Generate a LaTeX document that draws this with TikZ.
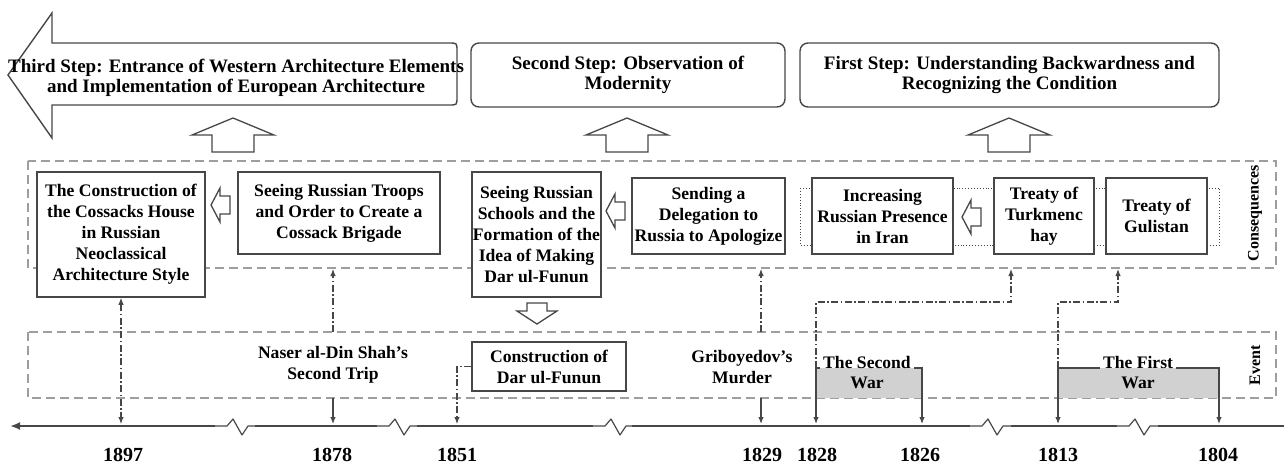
\documentclass[tikz,border=0pt]{standalone}
\usepackage{fontspec}
\setmainfont{Liberation Serif}
\usetikzlibrary{arrows.meta}
\newcommand\fTop{\fontsize{19}{20.5}\selectfont\bfseries}
\newcommand\fBody{\fontsize{17.6}{21}\selectfont\bfseries}
\newcommand\fYear{\fontsize{20}{22}\selectfont\bfseries}
\newcommand\fSide{\fontsize{16}{18}\selectfont\bfseries}
\colorlet{boxc}{black!72}
\colorlet{regc}{black!38}
\colorlet{linec}{black!72}
\tikzset{
 stepbox/.style={draw=boxc, line width=1.4pt, rounded corners=8pt, align=center, font=\fTop, inner sep=0pt},
 cbox/.style={draw=boxc, line width=1.6pt, fill=white, align=center, font=\fBody, inner sep=0pt},
 txt/.style={align=center, font=\fBody, inner sep=0pt},
 region/.style={draw=regc, line width=1.2pt, dash pattern=on 9pt off 5pt},
 dd/.style={draw=linec, line width=1.1pt, dash pattern=on 7pt off 2.5pt on 1.5pt off 2.5pt},
 sl/.style={draw=linec, line width=1.2pt},
 tip/.style={-{Latex[length=7pt,width=5.5pt]}},
 blk/.style={draw=boxc, line width=1.3pt, fill=white, line join=miter},
 yr/.style={font=\fYear, inner sep=0pt},
 side/.style={font=\fSide, rotate=90, inner sep=0pt},
 warlab/.style={font=\fBody, inner sep=3pt, anchor=base},
 shade/.style={fill=black!18},
}
\newcommand\upblk[1]{\draw[blk] (#1,118) -- ++(41,17) -- ++(-20,0) -- ++(0,17) -- ++(-42,0) -- ++(0,-17) -- ++(-20,0) -- cycle;}
\newcommand\lblk[2]{\draw[blk] (#1,#2) -- ++(9,-17) -- ++(0,8) -- ++(10,0) -- ++(0,18) -- ++(-10,0) -- ++(0,8) -- cycle;}
\newcommand\brk[2]{\fill[white] (#1,420) rectangle (#2,432);
 \draw[linec, line width=1.2pt, line join=round] (#1,426) -- ({#1+12},426) -- ({#1+18},419) -- ({#1+27},435) -- ({#1+33},426) -- (#2,426);}
\begin{document}
\begin{tikzpicture}[x=1pt,y=-1pt]
\useasboundingbox (0,0) rectangle (1284,466);

% ---------- top steps ----------
\draw[draw=boxc, line width=1.4pt, line join=miter]
  (52,43) -- (52,13) -- (8,75) -- (52,138) -- (52,105) -- (449,105)
  .. controls (457,105) .. (457,97) -- (457,51)
  .. controls (457,43) .. (449,43) -- cycle;
\node[align=center, font=\fTop, inner sep=0pt] (s3) at (236,78)
  {Third Step: Entrance of Western Architecture Elements\\and Implementation of European Architecture};
\node[stepbox, minimum width=314pt, minimum height=64pt] (s2) at (628,75)
  {Second Step: Observation of\\Modernity};
\node[stepbox, minimum width=419pt, minimum height=64pt] (s1) at (1009.5,75)
  {First Step: Understanding Backwardness and\\Recognizing the Condition};

\upblk{233}
\upblk{627}
\upblk{1009}

% ---------- regions ----------
\draw[region] (28,161) rectangle (1276,268);
\draw[region] (28,332) rectangle (1276,398);
\node[side] (lcons) at (1255,213) {Consequences};
\node[side] (lev) at (1255,365) {Event};

% dotted bracket behind treaties
\draw[draw=boxc, line width=0.9pt, dotted] (800,188) rectangle (1219,245);

% ---------- consequence boxes ----------
\node[cbox, minimum width=168pt, minimum height=125pt] (A) at (121,234.5)
  {The Construction of\\the Cossacks House\\in Russian\\Neoclassical\\Architecture Style};
\node[cbox, minimum width=202pt, minimum height=82pt] (B) at (339,213)
  {Seeing Russian Troops\\and Order to Create a\\Cossack Brigade};
\node[cbox, minimum width=129pt, minimum height=125pt] (C) at (536.5,234.5)
  {Seeing Russian\\Schools and the\\Formation of the\\Idea of Making\\Dar ul-Funun};
\node[cbox, minimum width=153pt, minimum height=76pt] (D) at (708.5,216)
  {Sending a\\Delegation to\\Russia to Apologize};
\node[cbox, minimum width=141pt, minimum height=76pt] (E) at (882.5,216)
  {Increasing\\Russian Presence\\in Iran};
\node[cbox, minimum width=100pt, minimum height=76pt] (F) at (1044,216)
  {Treaty of\\Turkmenc\\hay};
\node[cbox, minimum width=101pt, minimum height=76pt] (G) at (1156.5,216)
  {Treaty of\\Gulistan};

\lblk{211}{205}
\lblk{606}{211}
\lblk{962}{217}

% down arrow under C
\draw[blk] (537,324) -- ++(20,-13) -- ++(-10,0) -- ++(0,-8) -- ++(-20,0) -- ++(0,8) -- ++(-10,0) -- cycle;

% ---------- events ----------
\node[txt] (nas) at (333,365) {Naser al-Din Shah's\\Second Trip};
\node[cbox, minimum width=154pt, minimum height=49pt] (dar) at (549,366.5)
  {Construction of\\Dar ul-Funun};
\node[txt] (gri) at (742,367) {Griboyedov's\\Murder};

\fill[shade] (816,368) rectangle (922,398);
\fill[shade] (1058,368) rectangle (1219,398);
\node[warlab] (sw1) at (867,368) {The Second};
\node[warlab] (sw2) at (867,388) {War};
\node[warlab] (fw1) at (1138,368) {The First};
\node[warlab] (fw2) at (1138,388) {War};

% ---------- timeline ----------
\draw[draw=linec, line width=2.2pt, -{Latex[length=10pt,width=8pt]}] (1284,426) -- (10,426);
\brk{215}{255}
\brk{377}{417}
\brk{593}{632}
\brk{970}{1011}
\brk{1117}{1158}

\coordinate (t1897) at (121,424);
\coordinate (t1878) at (333,424);
\coordinate (t1851) at (457,424);
\coordinate (t1829) at (761,424);
\coordinate (t1828) at (816,424);
\coordinate (t1826) at (922,424);
\coordinate (t1813) at (1058,424);
\coordinate (t1804) at (1219,424);

\node[yr] (y1897) at (123,455) {1897};
\node[yr] (y1878) at (332,455) {1878};
\node[yr] (y1851) at (457,455) {1851};
\node[yr] (y1829) at (762,455) {1829};
\node[yr] (y1828) at (817,455) {1828};
\node[yr] (y1826) at (920,455) {1826};
\node[yr] (y1813) at (1058,455) {1813};
\node[yr] (y1804) at (1218,455) {1804};

% ---------- connectors ----------
\coordinate (cB) at (333,269);
\coordinate (cD) at (761,269);
\coordinate (cF) at (1011,269);
\coordinate (cG) at (1118,269);
\coordinate (e1878) at (333,332);
\coordinate (e1829) at (761,332);
\coordinate (b1878) at (333,398);
\coordinate (b1829) at (761,398);
\coordinate (swl) at (816,368);
\coordinate (fwl) at (1058,368);
\coordinate (kF) at (1011,302);
\coordinate (kG) at (1118,302);

\draw[dd, {Latex[length=7pt,width=5.5pt]}-{Latex[length=7pt,width=5.5pt]}] (A.south) -- (t1897);
\draw[dd, tip] (e1878) -- (cB);
\draw[sl, tip] (b1878) -- (t1878);
\draw[dd, tip] (dar.west) -| (t1851);
\draw[dd, tip] (e1829) -- (cD);
\draw[sl, tip] (b1829) -- (t1829);
\draw[sl, tip] (sw1.base west) -| (t1828);
\draw[sl, tip] (sw1.base east) -| (t1826);
\draw[dd, tip] (swl) |- (kF) -- (cF);
\draw[sl, tip] (fw1.base west) -| (t1813);
\draw[sl, tip] (fw1.base east) -| (t1804);
\draw[dd, tip] (fwl) |- (kG) -- (cG);
\end{tikzpicture}
\end{document}
